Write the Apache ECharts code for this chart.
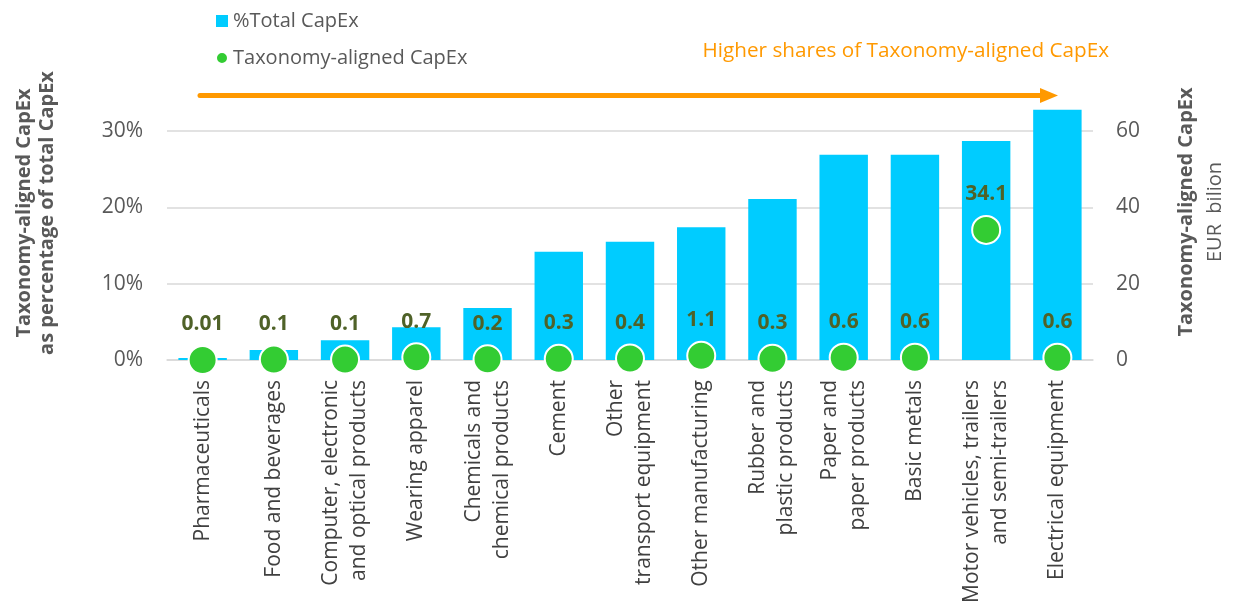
<!DOCTYPE html>
<html>
<head>
<meta charset="utf-8">
<script src="https://cdn.jsdelivr.net/npm/echarts@6/dist/echarts.min.js"></script>
<style>
  html, body { margin: 0; padding: 0; background: #fff; }
  #chart { width: 1233px; height: 608px; }
</style>
</head>
<body>
<div id="chart"></div>
<script>
// categories (sorted by share of total CapEx)
var sectors = [
    'Pharmaceuticals',
    'Food and beverages',
    'Computer, electronic\nand optical products',
    'Wearing apparel',
    'Chemicals and\nchemical products',
    'Cement',
    'Other\ntransport equipment',
    'Other manufacturing',
    'Rubber and\nplastic products',
    'Paper and\npaper products',
    'Basic metals',
    'Motor vehicles, trailers\nand semi-trailers',
    'Electrical equipment'
];
// taxonomy-aligned CapEx as % of total CapEx (bars, left axis)
var shareOfTotal = [0.25, 1.3, 2.6, 4.3, 6.8, 14.2, 15.5, 17.4, 21.1, 26.9, 26.9, 28.7, 32.8];
// taxonomy-aligned CapEx, EUR billion (dots, right axis)
var alignedCapex = [0.01, 0.1, 0.1, 0.7, 0.2, 0.3, 0.4, 1.1, 0.3, 0.6, 0.6, 34.1, 0.6];
var alignedLabels = ['0.01', '0.1', '0.1', '0.7', '0.2', '0.3', '0.4', '1.1', '0.3', '0.6', '0.6', '34.1', '0.6'];

var font = 'Open Sans';
var grey = '#595959';
var orange = '#FF9900';

var myChart = echarts.init(document.getElementById('chart'));

var option = {
    animation: false,
    textStyle: { fontFamily: font },
    legend: {
        orient: 'vertical',
        left: 210,
        top: 6,
        itemGap: 17,
        itemWidth: 12,
        itemHeight: 12,
        textStyle: { fontSize: 20, color: grey, fontFamily: font },
        data: [
            { name: '%Total CapEx', icon: 'rect' },
            { name: 'Taxonomy-aligned CapEx', icon: 'circle', itemStyle: { opacity: 1 } }
        ]
    },
    grid: { left: 167, right: 140, top: 100.6, bottom: 248 },
    xAxis: {
        type: 'category',
        data: sectors,
        axisTick: { show: false },
        axisLine: { lineStyle: { color: '#d9d9d9', width: 1.5 } },
        axisLabel: {
            rotate: 90,
            interval: 0,
            margin: 20,
            fontSize: 21,
            lineHeight: 28,
            color: '#404040',
            fontFamily: font
        }
    },
    yAxis: [{
        type: 'value',
        min: 0,
        max: 34,
        interval: 10,
        axisLine: { show: false },
        axisTick: { show: false },
        axisLabel: {
            formatter: '{value}%',
            showMaxLabel: false,
            margin: 24,
            fontSize: 21,
            color: grey
        },
        splitLine: { showMaxLine: false, lineStyle: { color: '#d9d9d9', width: 1.5 } }
    }, {
        type: 'value',
        min: 0,
        max: 68,
        interval: 20,
        axisLine: { show: false },
        axisTick: { show: false },
        axisLabel: {
            showMaxLabel: false,
            margin: 23,
            fontSize: 21,
            color: grey
        },
        splitLine: { show: false }
    }],
    series: [{
        name: '%Total CapEx',
        type: 'bar',
        data: shareOfTotal,
        barWidth: '68%',
        itemStyle: { color: '#00CCFF' },
        z: 2
    }, {
        name: 'Taxonomy-aligned CapEx',
        type: 'scatter',
        yAxisIndex: 1,
        data: alignedCapex,
        symbolSize: 28,
        itemStyle: { color: '#33CC33', borderColor: '#fff', borderWidth: 2, opacity: 1 },
        label: {
            show: true,
            position: 'top',
            distance: 10,
            fontSize: 21,
            fontWeight: 'bold',
            color: '#4F6228',
            formatter: function(p) { return alignedLabels[p.dataIndex]; }
        },
        z: 3
    }],
    graphic: [
        // left axis title
        {
            type: 'text',
            x: 13, y: 213,
            rotation: Math.PI / 2,
            style: {
                text: 'Taxonomy-aligned CapEx\nas percentage of total CapEx',
                font: 'bold 20px "Open Sans"',
                fill: grey,
                align: 'center',
                verticalAlign: 'top',
                lineHeight: 23
            }
        },
        // right axis title
        {
            type: 'text',
            x: 1172, y: 212,
            rotation: Math.PI / 2,
            style: {
                text: '{b|Taxonomy-aligned CapEx}\n{n|EUR  bilion}',
                align: 'center',
                verticalAlign: 'top',
                rich: {
                    b: { font: 'bold 20px "Open Sans"', fill: grey, lineHeight: 29, align: 'center' },
                    n: { font: '20px "Open Sans"', fill: grey, lineHeight: 29, align: 'center' }
                }
            }
        },
        // orange arrow
        {
            type: 'line',
            shape: { x1: 200, y1: 95.5, x2: 1043, y2: 95.5 },
            style: { stroke: orange, lineWidth: 5, lineCap: 'round' }
        },
        {
            type: 'polygon',
            shape: { points: [[1040, 88], [1058, 95.5], [1040, 103]] },
            style: { fill: orange }
        },
        {
            type: 'text',
            x: 1109, y: 51,
            style: {
                text: 'Higher shares of Taxonomy-aligned CapEx',
                font: '20.7px "Open Sans"',
                fill: orange,
                align: 'right',
                verticalAlign: 'middle'
            }
        }
    ]
};

myChart.setOption(option);
</script>
</body>
</html>
